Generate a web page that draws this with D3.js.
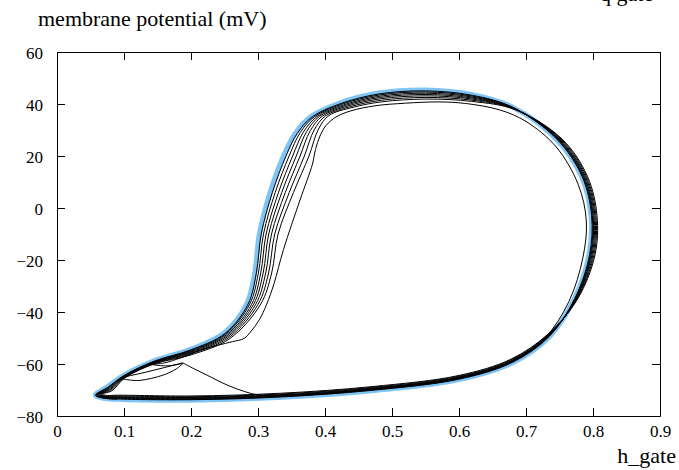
<!DOCTYPE html>
<html>
<head>
<meta charset="utf-8">
<script src="https://cdn.jsdelivr.net/npm/d3@7"></script>
<style>
  html, body { margin: 0; padding: 0; background: #fff; overflow: hidden; }
  svg { display: block; }
  svg text { font-family: 'Liberation Serif', 'Times New Roman', Times, 'DejaVu Serif', serif; }
</style>
</head>
<body>
<svg id="chart" width="679" height="470"></svg>
<script>
// Phase portrait: membrane potential (mV) against the h gate variable.

const hTicks = [0, 0.1, 0.2, 0.3, 0.4, 0.5, 0.6, 0.7, 0.8, 0.9];
const vTicks = [-80, -60, -40, -20, 0, 20, 40, 60];

// Settled limit cycle [h, V]
const limitCycle = [
  [0.057,-72.0],[0.068,-73.1],[0.09,-73.6],[0.20,-73.9],[0.33,-72.9],[0.47,-70.3],
  [0.60,-66.0],[0.68,-59.5],[0.735,-49.5],[0.772,-35],[0.794,-18],[0.797,-3],
  [0.783,12],[0.745,26.5],[0.68,38.8],[0.62,43.6],[0.55,45.4],[0.48,44.2],
  [0.42,40.2],[0.378,35],[0.355,28.5],[0.338,20],[0.318,6],[0.302,-10],
  [0.295,-25],[0.283,-37],[0.25,-48],[0.20,-54.3],[0.145,-58.8],[0.10,-64.3],[0.075,-68.8]
];

// Opening excursion from the start point, through the first (smallest) spike
const firstPass = [
  [0.188,-59.6],[0.205,-61.9],[0.224,-64.3],[0.254,-68.1],[0.28,-70.6],[0.30,-71.9],
  [0.33,-72.3],[0.40,-71.3],[0.47,-69.6],[0.60,-65.3],[0.675,-59.5],[0.728,-50.0],
  [0.764,-36],[0.785,-19],[0.790,-5],[0.778,9],[0.745,23.5],[0.70,33.3],
  [0.661,37.7],[0.61,40.2],[0.57,40.8],[0.52,40.31],[0.4746,39.31],[0.4388,37.38],
  [0.4164,35.0],[0.4015,31.73],[0.3925,27.69],[0.3858,22.5],[0.3813,16.92],[0.3627,3.08],
  [0.338,-16],[0.324,-29],[0.313,-37],[0.302,-43],[0.29,-47.3],[0.279,-50.2],
  [0.262,-51.4],[0.24,-52.8],[0.21,-55.0],[0.185,-57.6],[0.16,-59.6],[0.143,-60.2],
  [0.165,-60.7],[0.188,-59.8]
];

// Short side excursion near rest
const sideLoop = [
  [0.188,-59.5],[0.16,-61.4],[0.13,-63.3],[0.097,-65.5],[0.11,-66.2],[0.124,-66.3],
  [0.158,-64.3],[0.178,-61.9],[0.188,-59.8]
];

// Successive spikes approaching the limit cycle
const cycle1 = [
  [0.066,-71.6],[0.075,-72.1],[0.09,-72.0],[0.20,-72.3],[0.33,-71.3],[0.47,-68.7],
  [0.60,-64.4],[0.677,-58.2],[0.732,-48.7],[0.777,-35],[0.803,-18],[0.806,-3],
  [0.792,12],[0.754,26.5],[0.684,37.8],[0.619,41.0],[0.551,41.9],[0.4851,40.85],
  [0.4418,38.73],[0.406,35.58],[0.3903,30.38],[0.3761,20],[0.353,6],[0.330,-10],
  [0.3204,-25],[0.304,-37],[0.258,-50.2],[0.20,-56.5],[0.145,-60.0],[0.10,-65.6],[0.082,-70.3]
];
const cycle2 = [
  [0.0644,-71.67],[0.0737,-72.28],[0.09,-72.29],[0.20,-72.59],[0.33,-71.59],[0.47,-68.99],
  [0.60,-64.69],[0.6775,-58.43],[0.7325,-48.84],[0.7761,-35],[0.8014,-18],[0.8044,-3],
  [0.7904,12],[0.7524,26.5],[0.6833,37.98],[0.6192,41.47],[0.5508,42.53],[0.4842,41.45],
  [0.4379,38.99],[0.401,35.48],[0.3839,30.04],[0.3692,20],[0.3467,6],[0.325,-10],
  [0.3158,-25],[0.3002,-37],[0.2566,-49.8],[0.20,-56.1],[0.145,-59.78],[0.10,-65.37],[0.0807,-70.03]
];
const cycle3 = [
  [0.0629,-71.74],[0.0726,-72.45],[0.09,-72.56],[0.20,-72.86],[0.33,-71.86],[0.47,-69.26],
  [0.60,-64.96],[0.678,-58.66],[0.733,-48.98],[0.7753,-35],[0.7999,-18],[0.8029,-3],
  [0.7889,12],[0.7509,26.5],[0.6826,38.15],[0.6194,41.91],[0.5507,43.13],[0.4833,42.02],
  [0.4342,39.24],[0.3962,35.38],[0.378,29.72],[0.3628,20],[0.3408,6],[0.3202,-10],
  [0.3115,-25],[0.2967,-37],[0.2552,-49.43],[0.20,-55.73],[0.145,-59.58],[0.10,-65.15],[0.0796,-69.78]
];
const cycle4 = [
  [0.0615,-71.8],[0.0715,-72.6],[0.09,-72.8],[0.20,-73.1],[0.33,-72.1],[0.47,-69.5],
  [0.60,-65.2],[0.6785,-58.85],[0.7335,-49.1],[0.7745,-35],[0.7985,-18],[0.8015,-3],
  [0.7875,12],[0.7495,26.5],[0.682,38.3],[0.6195,42.3],[0.5505,43.65],[0.4826,42.53],
  [0.4309,39.47],[0.392,35.29],[0.3727,29.44],[0.3571,20],[0.3355,6],[0.316,-10],
  [0.3077,-25],[0.2935,-37],[0.254,-49.1],[0.20,-55.4],[0.145,-59.4],[0.10,-64.95],[0.0785,-69.55]
];
const cycle5 = [
  [0.0602,-71.86],[0.0705,-72.74],[0.09,-73.02],[0.20,-73.32],[0.33,-72.32],[0.47,-69.72],
  [0.60,-65.42],[0.6789,-59.03],[0.7339,-49.21],[0.7738,-35],[0.7972,-18],[0.8002,-3],
  [0.7862,12],[0.7482,26.5],[0.6814,38.44],[0.6196,42.66],[0.5504,44.14],[0.4818,42.99],
  [0.4279,39.67],[0.3881,35.21],[0.3677,29.18],[0.3517,20],[0.3306,6],[0.3121,-10],
  [0.3041,-25],[0.2906,-37],[0.2529,-48.79],[0.20,-55.09],[0.145,-59.23],[0.10,-64.77],[0.0775,-69.34]
];
const cycle6 = [
  [0.059,-71.91],[0.0695,-72.88],[0.09,-73.25],[0.20,-73.55],[0.33,-72.55],[0.47,-69.95],
  [0.60,-65.65],[0.6793,-59.21],[0.7343,-49.32],[0.7731,-35],[0.796,-18],[0.799,-3],
  [0.785,12],[0.747,26.5],[0.6809,38.58],[0.6198,43.03],[0.5502,44.63],[0.4811,43.46],
  [0.4248,39.88],[0.3842,35.13],[0.3628,28.91],[0.3464,20],[0.3257,6],[0.3082,-10],
  [0.3006,-25],[0.2876,-37],[0.2518,-48.48],[0.20,-54.78],[0.145,-59.06],[0.10,-64.59],[0.0765,-69.13]
];
const cycle7 = [
  [0.0579,-71.96],[0.0687,-73.0],[0.09,-73.44],[0.20,-73.74],[0.33,-72.74],[0.47,-70.14],
  [0.60,-65.84],[0.6797,-59.37],[0.7347,-49.42],[0.7725,-35],[0.7949,-18],[0.7979,-3],
  [0.7839,12],[0.7459,26.5],[0.6804,38.7],[0.6199,43.34],[0.5501,45.05],[0.4805,43.87],
  [0.4222,40.05],[0.3808,35.06],[0.3585,28.69],[0.3418,20],[0.3215,6],[0.3048,-10],
  [0.2975,-25],[0.2851,-37],[0.2508,-48.22],[0.20,-54.52],[0.145,-58.92],[0.10,-64.43],[0.0757,-68.95],
  [0.0575,-72.0],[0.068,-73.08],[0.09,-73.58]
];

const plot = { left: 57, right: 660, top: 52, bottom: 416 };

const svg = d3.select('#chart');
const x = d3.scaleLinear().domain([0, 0.9]).range([plot.left, plot.right]);
const y = d3.scaleLinear().domain([-80, 60]).range([plot.bottom, plot.top]);

const serif = "'Liberation Serif', 'Times New Roman', Times, 'DejaVu Serif', serif";

svg.append('defs').append('clipPath').attr('id', 'plot-clip')
  .append('rect')
  .attr('x', plot.left).attr('y', plot.top)
  .attr('width', plot.right - plot.left).attr('height', plot.bottom - plot.top);

const openLine = d3.line()
  .x(d => x(d[0])).y(d => y(d[1]))
  .curve(d3.curveCatmullRom.alpha(0.5));
const closedLine = d3.line()
  .x(d => x(d[0])).y(d => y(d[1]))
  .curve(d3.curveCatmullRomClosed.alpha(0.5));

const traces = svg.append('g').attr('clip-path', 'url(#plot-clip)');

traces.append('path')
  .datum(limitCycle)
  .attr('d', closedLine)
  .attr('fill', 'none')
  .attr('stroke', '#80c4f4')
  .attr('stroke-width', 5)
  .attr('stroke-linejoin', 'round');

const spikes = [cycle1, cycle2, cycle3, cycle4, cycle5, cycle6, cycle7].flat();

[spikes, firstPass, sideLoop].forEach(seg => {
  traces.append('path')
    .datum(seg)
    .attr('d', openLine)
    .attr('fill', 'none')
    .attr('stroke', '#000')
    .attr('stroke-width', 1)
    .attr('stroke-linejoin', 'round');
});

// Axes: labelled bottom/left, tick-only top/right, ticks pointing inward
const xFmt = d => d === 0 ? '0' : d3.format('.1f')(d);
const yFmt = d3.format('d');

function styleAxis(g) {
  g.attr('font-family', null).attr('font-size', null);
  g.style('font-family', serif).style('font-size', '17px');
  g.selectAll('.domain').attr('stroke', '#000').attr('stroke-width', 1);
  g.selectAll('.tick line').attr('stroke', '#000');
  g.selectAll('.tick text').attr('fill', '#000');
}

svg.append('g')
  .attr('transform', `translate(0,${plot.bottom})`)
  .call(d3.axisBottom(x).tickValues(hTicks).tickFormat(xFmt)
    .tickSizeInner(-8).tickSizeOuter(0).tickPadding(9))
  .call(styleAxis);

svg.append('g')
  .attr('transform', `translate(${plot.left},0)`)
  .call(d3.axisLeft(y).tickValues(vTicks).tickFormat(yFmt)
    .tickSizeInner(-8).tickSizeOuter(0).tickPadding(14))
  .call(styleAxis)
  .call(g => g.selectAll('.tick text').attr('dy', '0.4em'));

svg.append('g')
  .attr('transform', `translate(0,${plot.top})`)
  .call(d3.axisTop(x).tickValues(hTicks).tickFormat('')
    .tickSizeInner(-8).tickSizeOuter(0))
  .call(styleAxis);

svg.append('g')
  .attr('transform', `translate(${plot.right},0)`)
  .call(d3.axisRight(y).tickValues(vTicks).tickFormat('')
    .tickSizeInner(-8).tickSizeOuter(0))
  .call(styleAxis);

// Axis titles
function title(xPos, yPos, anchor, label) {
  svg.append('text')
    .attr('x', xPos).attr('y', yPos)
    .attr('text-anchor', anchor)
    .style('font-family', serif).style('font-size', '22px')
    .attr('fill', '#000')
    .text(label);
}
title(38, 26, 'start', 'membrane potential (mV)');
title(676, 463, 'end', 'h_gate');
title(600, 1, 'start', 'q gate');
</script>
</body>
</html>
